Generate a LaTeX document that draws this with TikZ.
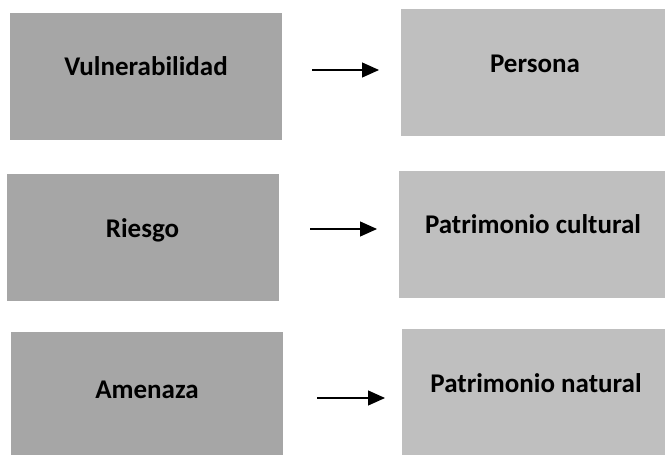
\documentclass[tikz,border=0pt]{standalone}
\usepackage{fontspec}
\setmainfont{Carlito}
\usetikzlibrary{arrows.meta}

\definecolor{darkcell}{HTML}{A6A6A6}
\definecolor{lightcell}{HTML}{BFBFBF}

\tikzset{
  cell/.style={inner sep=0pt,minimum height=127pt,text height=18pt,text depth=19pt,
    font=\fontsize{27}{31}\selectfont\bfseries},
  causecell/.style={cell,fill=darkcell,minimum width=272pt},
  targetcell/.style={cell,fill=lightcell,minimum width=268pt},
  flow/.style={line width=1.2pt,-{Triangle[length=17pt,width=15pt]}}
}

\begin{document}
\begin{tikzpicture}[x=1pt,y=-1pt]
\useasboundingbox (0,0) rectangle (665,455);
\clip (0,0) rectangle (665,455);
% left column
\node[causecell] (vul) at (146,76) {Vulnerabilidad};
\node[causecell] (rie) at (142.5,237.5) {Riesgo};
\node[causecell,text depth=12pt] (ame) at (147,395.5) {Amenaza};
% right column
\node[targetcell] (per) at (535,72.5) {Persona};
\node[targetcell] (cul) at (533,234) {Patrimonio cultural};
\node[targetcell] (nat) at (536,392.5) {Patrimonio natural};
% arrows in the gaps
\coordinate (a1) at (312,70);  \coordinate (b1) at (379,70);
\coordinate (a2) at (310,229); \coordinate (b2) at (377,229);
\coordinate (a3) at (317,398); \coordinate (b3) at (385,398);
\draw[flow] (a1)--(b1);
\draw[flow] (a2)--(b2);
\draw[flow] (a3)--(b3);
\end{tikzpicture}
\end{document}
